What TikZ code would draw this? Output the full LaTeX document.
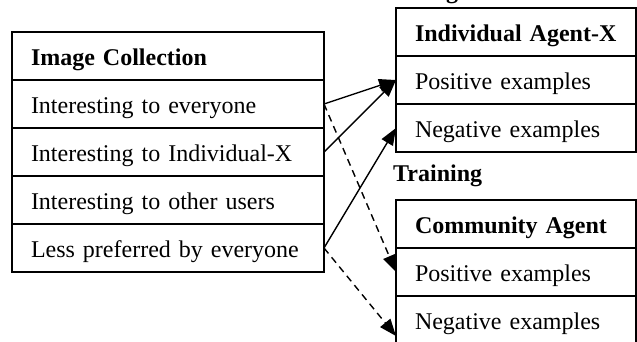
\documentclass[tikz,border=0pt]{standalone}
\usepackage{fontspec}
\setmainfont{Liberation Serif}
\usetikzlibrary{arrows.meta,calc}

\begin{document}
\begin{tikzpicture}[x=1pt,y=-1pt,
  every node/.style={font=\fontsize{24}{28}\selectfont},
  cell/.style={draw, line width=1.6pt, anchor=north west, outer sep=0pt,
    inner xsep=19pt, inner ysep=0pt, text height=33.5pt, text depth=14.5pt,
    align=left},
  leftcell/.style={cell, text width=274pt},
  rightcell/.style={cell, text width=202pt},
  head/.style={font=\fontsize{24}{28}\selectfont\bfseries},
  link/.style={line width=1.4pt, -{Triangle[length=17pt,width=13pt]}},
  dashlink/.style={link, dash pattern=on 7pt off 5pt}
]
\useasboundingbox (0,0) rectangle (637,341);

% image collection table
\node[leftcell, head] (l1) at (12,32)  {Image Collection};
\node[leftcell] (l2) at (12,80)  {Interesting to everyone};
\node[leftcell] (l3) at (12,128) {Interesting to Individual-X};
\node[leftcell] (l4) at (12,176) {Interesting to other users};
\node[leftcell] (l5) at (12,224) {Less preferred by everyone};

% individual agent table
\node[head, anchor=base west, inner sep=0pt] (traintop) at (369,-2) {Training};
\node[rightcell, head] (a1) at (396,8)   {Individual Agent-X};
\node[rightcell] (a2) at (396,56)  {Positive examples};
\node[rightcell] (a3) at (396,104) {Negative examples};

% community agent table
\node[head, anchor=base west, inner sep=0pt] (train) at (393,181) {Training};
\node[rightcell, head] (c1) at (396,200) {Community Agent};
\node[rightcell] (c2) at (396,248) {Positive examples};
\node[rightcell] (c3) at (396,296) {Negative examples};
\coordinate (c3tip) at ($(c3.north west)+(0,40)$);

% training links
\draw[link] (l2.east) -- (a2.west);
\draw[link] (l3.east) -- (a2.west);
\draw[link] (l5.east) -- (a3.west);
\draw[dashlink] (l2.east) -- (c2.west);
\draw[dashlink] (l5.east) -- (c3tip);
\end{tikzpicture}
\end{document}
